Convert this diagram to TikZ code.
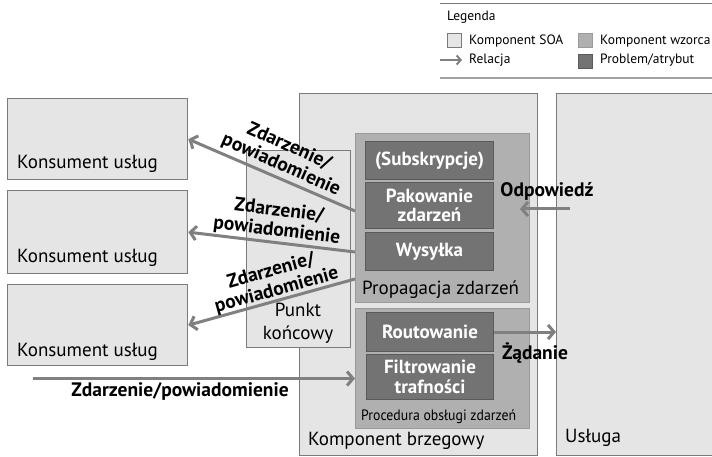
\documentclass[tikz,border=0pt]{standalone}
\usepackage{fontspec}
\setmainfont{PT Sans}
\usetikzlibrary{arrows.meta,calc}
\definecolor{soa}{HTML}{E5E5E5}
\definecolor{soaline}{HTML}{7A7A7A}
\definecolor{wzor}{HTML}{B0B0B0}
\definecolor{wzorline}{HTML}{9A9A9A}
\definecolor{prob}{HTML}{737373}
\definecolor{probline}{HTML}{5A5A5A}
\definecolor{relc}{HTML}{808080}
\begin{document}
\begin{tikzpicture}[x=1pt,y=-1pt,
  soabox/.style={draw=soaline,fill=soa,line width=1.3pt,inner sep=0pt,anchor=north west},
  wzorbox/.style={draw=wzorline,fill=wzor,line width=1pt,inner sep=0pt,anchor=north west},
  probbox/.style={draw=probline,fill=prob,line width=1pt,inner sep=0pt,anchor=north west,
    text=white,align=center,font=\bfseries\fontsize{19}{19.5}\selectfont},
  reltxt/.style={font=\fontsize{19}{22}\selectfont,inner sep=0pt,anchor=base west},
  small/.style={font=\fontsize{15}{18}\selectfont,inner sep=0pt,anchor=base west},
  lbl/.style={font=\bfseries\fontsize{19.5}{20}\selectfont,align=center,inner sep=0pt},
  legtxt/.style={font=\fontsize{13.5}{15}\selectfont,inner sep=0pt,anchor=base west},
  relarrow/.style={draw=relc,line width=3pt,-{Straight Barb[length=6pt,width=14pt]}},
  legbox/.style={line width=0.8pt,inner sep=0pt,anchor=north west,minimum width=14pt,minimum height=14pt}]
\clip (0,0) rectangle (712,457);

% legend
\draw[draw=soaline,line width=1.6pt] (440,3.5) -- (712,3.5);
\draw[draw=soaline!70,line width=1.6pt] (440,78) -- (712,78);
\node[legtxt] (legt) at (447,21) {Legenda};
\node[legbox,draw=soaline,fill=soa] (leg1) at (447,33) {};
\node[legtxt] (leg1t) at (469,45) {Komponent SOA};
\node[legbox,draw=wzorline,fill=wzor] (leg2) at (578,33) {};
\node[legtxt] (leg2t) at (600,45) {Komponent wzorca};
\coordinate (leg3s) at (440,60);
\node[legtxt] (leg3t) at (469,64) {Relacja};
\draw[draw=relc,line width=2pt,-{Straight Barb[length=4pt,width=9pt]}] (leg3s) -- ++(22,0);
\node[legbox,draw=probline,fill=prob] (leg4) at (578,54) {};
\node[legtxt] (leg4t) at (600,64) {Problem/atrybut};

% service consumers
\node[soabox,minimum width=180pt,minimum height=81pt] (k1) at (7,98) {};
\node[soabox,minimum width=180pt,minimum height=83pt] (k2) at (7,190) {};
\node[soabox,minimum width=180pt,minimum height=81pt] (k3) at (7,284) {};
\node[reltxt] (k1t) at (17,169) {Konsument usług};
\node[reltxt] (k2t) at (17,262) {Konsument usług};
\node[reltxt] (k3t) at (17,356) {Konsument usług};

% edge component and service
\node[soabox,minimum width=238pt,minimum height=362pt] (edge) at (299,93) {};
\node[soabox,minimum width=170pt,minimum height=362pt] (usl) at (556,93) {};
\node[reltxt] (edget) at (308,445) {Komponent brzegowy};
\node[reltxt] (uslt) at (565,442) {Usługa};

% endpoint
\node[soabox,minimum width=104pt,minimum height=197pt] (punkt) at (246,150) {};
\node[font=\fontsize{19}{23}\selectfont,align=center,inner sep=0pt] (punktt) at (298,323) {Punkt\\końcowy};

% event propagation
\node[wzorbox,minimum width=174pt,minimum height=169pt] (prop) at (355,133) {};
\node[reltxt] (propt) at (362,294) {Propagacja zdarzeń};
\node[probbox,minimum width=128pt,minimum height=38pt] (sub) at (365,141) {(Subskrypcje)};
\node[probbox,minimum width=128pt,minimum height=46pt] (pak) at (365,182) {Pakowanie\\zdarzeń};
\node[probbox,minimum width=128pt,minimum height=38pt] (wys) at (365,232) {Wysyłka};

% event handler
\node[wzorbox,minimum width=174pt,minimum height=120pt] (proc) at (355,308) {};
\node[small] (proct) at (361,420) {\scalebox{0.92}[1]{Procedura obsługi zdarzeń}};
\node[probbox,minimum width=127pt,minimum height=39pt] (rout) at (366,312) {Routowanie};
\node[probbox,minimum width=127pt,minimum height=45pt] (filt) at (366,354) {Filtrowanie\\trafności};

% relations
\coordinate (s1) at (355,211);
\coordinate (s2) at (355,252);
\coordinate (s3) at (355,279);
\draw[relarrow] (s1) -- (k1.east);
\draw[relarrow] (s2) -- (k2.east);
\draw[relarrow] (s3) -- (k3.east);
\node[lbl,rotate=-24] (l1) at (285,156) {Zdarzenie/\\powiadomienie};
\node[lbl,rotate=-7] (l2) at (278,221) {Zdarzenie/\\powiadomienie};
\node[lbl,rotate=15.6] (l3) at (274,281) {Zdarzenie/\\powiadomienie};

\coordinate (in) at (33,378.5);
\draw[relarrow] (in) -- (proc.west |- in);
\node[lbl] (l4) at (180,392) {Zdarzenie/powiadomienie};

\draw[relarrow] (rout.east) -- (usl.west |- rout.east);
\node[lbl] (l5) at (535,353) {Żądanie};

\coordinate (odps) at (570,209);
\coordinate (odpe) at (520,209);
\draw[relarrow] (odps) -- (odpe);
\node[lbl] (l6) at (547,191) {Odpowiedź};
\end{tikzpicture}
\end{document}
